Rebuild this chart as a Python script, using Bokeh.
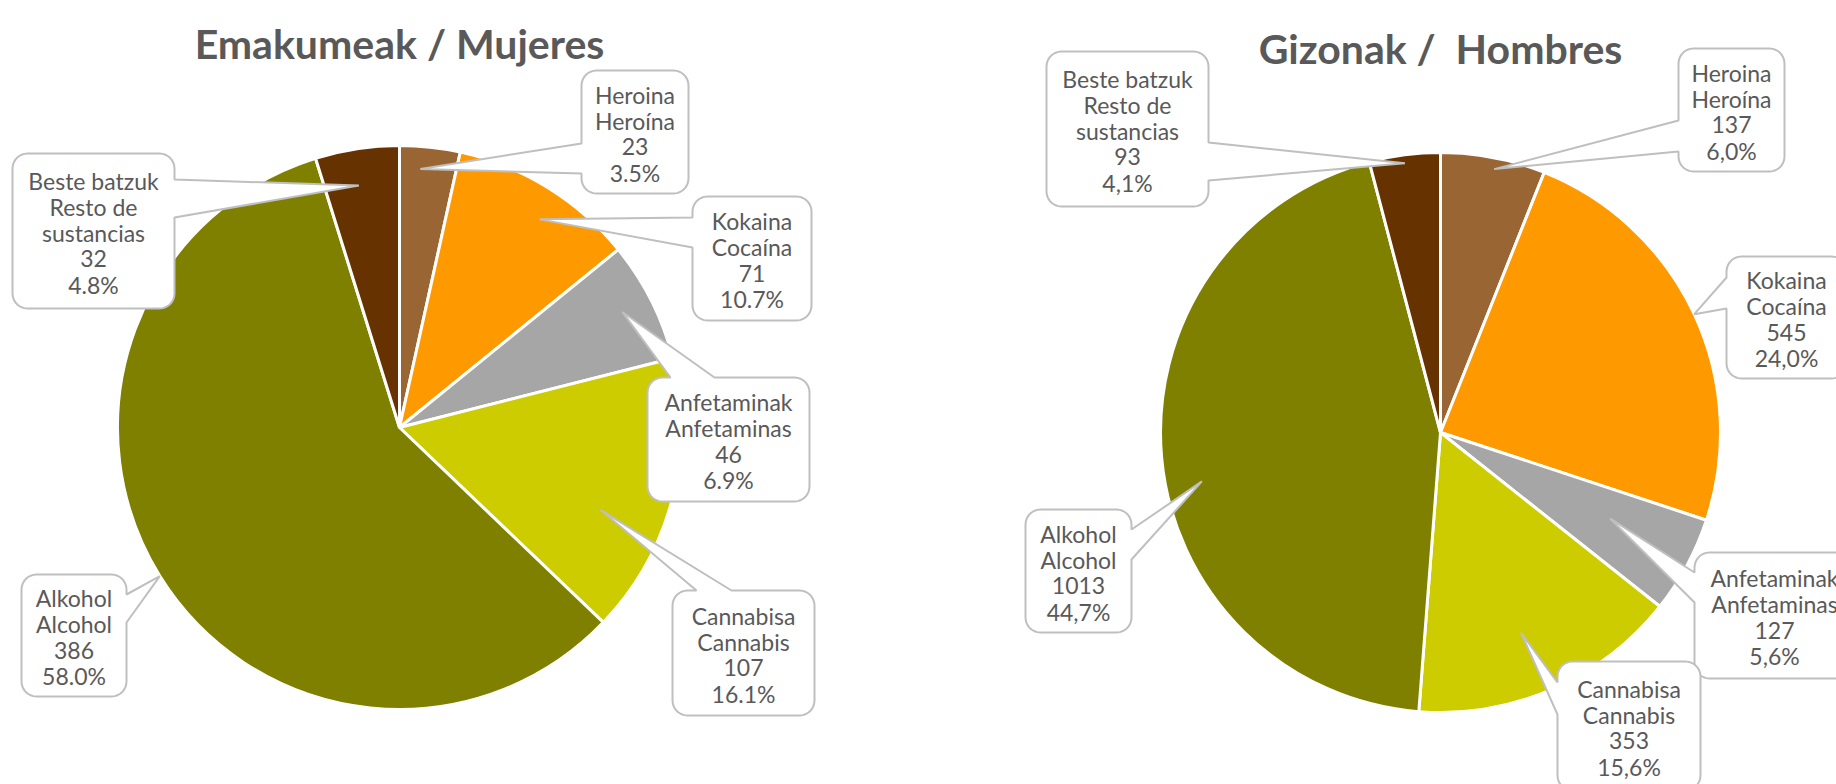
import textwrap
import numpy as np
from bokeh.plotting import figure
from bokeh.models import Range1d
from bokeh.core.properties import value
from bokeh.embed import file_html
from bokeh.resources import INLINE

# ---------------- data ----------------
categories_eu = ["Heroina", "Kokaina", "Anfetaminak", "Cannabisa", "Alkohol", "Beste batzuk"]
categories_es = ["Heroína", "Cocaína", "Anfetaminas", "Cannabis", "Alcohol", "Resto de sustancias"]
women = [23, 71, 46, 107, 386, 32]
men = [137, 545, 127, 353, 1013, 93]
colors = ["#996633", "#FF9900", "#A6A6A6", "#CCCC00", "#808000", "#663300"]
titles = ["Emakumeak / Mujeres", "Gizonak / \u00a0Hombres"]
decimal_sep = [".", ","]

# ---------------- layout (reference pixel coordinates, y downwards) ----------------
W, H = 1836, 784
charts = [
    dict(values=women, title=titles[0], sep=decimal_sep[0], cx=399, cy=427, r=282, title_y=43,
         boxes=[  # x0, y0, x1, y1, side, b0, b1, tip position in slice, tip radius fraction
             (581, 70, 688, 193, "left", 143, 173, 0.37, 0.92),
             (692, 196, 811, 320, "left", 217, 247, 0.56, 0.89),
             (647, 377, 809, 501, "top", 670, 714, 0.47, 0.89),
             (672, 590, 814, 715, "top", 696, 731, 0.63, 0.77),
             (21, 574, 126, 696, "right", 594, 622, 0.50, 1.00),
             (12, 153, 174, 308, "right", 179, 217, 0.45, 0.87),
         ]),
    dict(values=men, title=titles[1], sep=decimal_sep[1], cx=1440, cy=432, r=280, title_y=48,
         boxes=[
             (1678, 48, 1784, 171, "left", 120, 151, 0.53, 0.96),
             (1726, 256, 1846, 378, "left", 277, 308, 0.50, 1.00),
             (1694, 552, 1854, 678, "left", 572, 602, 0.43, 0.68),
             (1557, 661, 1700, 790, "left", 682, 714, 0.53, 0.77),
             (1025, 509, 1131, 632, "right", 529, 559, 0.46, 0.87),
             (1046, 51, 1208, 206, "right", 142, 180, 0.49, 0.97),
         ]),
]

TEXT_COLOR = "#595959"
LABEL_FONT = "Lato"
LABEL_SIZE = "23px"
TITLE_SIZE = "41px"
LINE_STEP = 26
CORNER = 15

p = figure(width=W, height=H, x_range=Range1d(0, W), y_range=Range1d(-H, 0),
           output_backend="svg", toolbar_location=None, min_border=0,
           x_axis_location=None, y_axis_location=None)
p.grid.visible = False
p.outline_line_color = None
p.background_fill_color = "white"
p.border_fill_color = "white"


def arc(cx, cy, r, a0, a1, n=8):
    t = np.radians(np.linspace(a0, a1, n))
    return list(zip(cx + r * np.cos(t), cy + r * np.sin(t)))


def callout(x0, y0, x1, y1, side, b0, b1, tip, r=CORNER):
    pts = []
    pts += arc(x0 + r, y0 + r, r, 180, 270)
    if side == "top":
        pts += [(b0, y0), tip, (b1, y0)]
    pts += arc(x1 - r, y0 + r, r, 270, 360)
    if side == "right":
        pts += [(x1, b0), tip, (x1, b1)]
    pts += arc(x1 - r, y1 - r, r, 0, 90)
    if side == "bottom":
        pts += [(b1, y1), tip, (b0, y1)]
    pts += arc(x0 + r, y1 - r, r, 90, 180)
    if side == "left":
        pts += [(x0, b1), tip, (x0, b0)]
    xs = [q[0] for q in pts]
    ys = [-q[1] for q in pts]
    return xs, ys


for ch in charts:
    vals = np.array(ch["values"], dtype=float)
    total = vals.sum()
    frac = vals / total
    c1 = np.cumsum(frac)
    c0 = c1 - frac
    start = np.pi / 2 - 2 * np.pi * c0
    end = np.pi / 2 - 2 * np.pi * c1
    p.wedge(x=ch["cx"], y=-ch["cy"], radius=ch["r"], start_angle=start, end_angle=end,
            direction="clock", fill_color=colors, line_color="white", line_width=3)

    # callouts
    pxs, pys = [], []
    tx, ty, tt = [], [], []
    for i, b in enumerate(ch["boxes"]):
        x0, y0, x1, y1, side, b0, b1, tpos, trf = b
        ang = 2 * np.pi * (c0[i] + tpos * frac[i])  # clockwise from 12 o'clock
        tip = (ch["cx"] + trf * ch["r"] * np.sin(ang), ch["cy"] - trf * ch["r"] * np.cos(ang))
        xs, ys = callout(x0, y0, x1, y1, side, b0, b1, tip)
        pxs.append(xs)
        pys.append(ys)
        pct = f"{100 * frac[i]:.1f}".replace(".", ch["sep"]) + "%"
        lines = [categories_eu[i]] + textwrap.wrap(categories_es[i], 12) + [str(ch["values"][i]), pct]
        n = len(lines)
        cxb = (x0 + x1) / 2
        cyb = (y0 + y1) / 2 + 1.5
        for k, s in enumerate(lines):
            tx.append(cxb)
            ty.append(-(cyb + (k - (n - 1) / 2) * LINE_STEP))
            tt.append(s)
    p.patches(xs=pxs, ys=pys, fill_color="white", line_color="#BFBFBF", line_width=2)
    p.text(x=tx, y=ty, text=tt, text_align="center", text_baseline="middle",
           text_font=value(LABEL_FONT), text_font_size=LABEL_SIZE, text_color=TEXT_COLOR)

    p.text(x=[ch["cx"]], y=[-ch["title_y"]], text=[ch["title"]], text_align="center",
           text_baseline="alphabetic", text_font=value("Lato"), text_font_style="bold",
           text_font_size=TITLE_SIZE, text_color=TEXT_COLOR)

open("out.html", "w").write(file_html(p, INLINE))
